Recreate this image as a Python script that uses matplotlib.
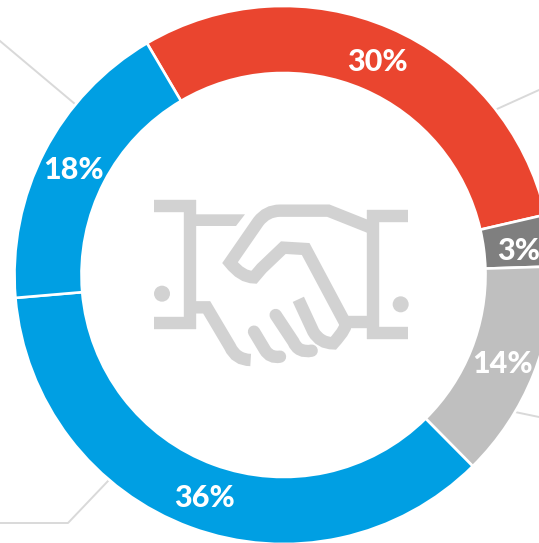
import matplotlib
matplotlib.use('Agg')
import matplotlib.pyplot as plt
from matplotlib.patches import Circle, PathPatch
from matplotlib.path import Path

shares = [29.9, 3.1, 13.1, 36.1, 17.9]
labels = ['30%', '3%', '14%', '36%', '18%']
colors = ['#ea452f', '#7f7f7f', '#bfbfbf', '#009fe3', '#009fe3']
label_pos = [(377, 62), (519, 251), (502, 364), (204, 498), (73, 170)]

# leader lines that run off the canvas, in pixels from the top left
leaders = [
    [(0, 41), (75, 104)],
    [(497, 109), (539, 90)],
    [(515, 412), (539, 417)],
    [(0, 523), (68, 523), (108, 481)],
]

W, H = 539, 543
fig = plt.figure(figsize=(W / 100, H / 100), dpi=100)
ax = fig.add_axes([0, 0, 1, 1])

for line in leaders:
    ax.plot([p[0] for p in line], [H - p[1] for p in line], color='#d9d9d9', lw=1.4, zorder=1)

ax.pie(shares, colors=colors, startangle=120.5, counterclock=False,
       center=(283.5, H - 275), radius=269,
       wedgeprops=dict(width=67, edgecolor='white', linewidth=1.9, zorder=2))

ax.set_xlim(0, W)
ax.set_ylim(0, H)
ax.set_aspect('equal')
ax.axis('off')

for txt, (x, y) in zip(labels, label_pos):
    ax.text(x, H - y, txt, color='white', fontsize=22, fontweight=900, family='Lato',
            ha='center', va='center', zorder=5)


# handshake icon
def pt(x, y):
    return (130 + x / 3, H - (180 + y / 3))


icon = '#d2d2d2'
M, L, Q = Path.MOVETO, Path.LINETO, Path.CURVE3
strokes = [
    ([(72, 78), (198, 78)], [M, L]),
    ([(180, 60), (180, 448)], [M, L]),
    ([(72, 430), (198, 430)], [M, L]),
    ([(710, 108), (835, 108)], [M, L]),
    ([(728, 90), (728, 478)], [M, L]),
    ([(710, 460), (835, 460)], [M, L]),
    ([(650, 427), (710, 427)], [M, L]),
    ([(198, 382), (230, 382), (300, 500), (318, 540), (362, 540)], [M, L, L, Q, Q]),
    ([(728, 145), (595, 92), (450, 92), (410, 92), (385, 125), (300, 248), (335, 292), (372, 292),
      (395, 265), (460, 203), (527, 207), (645, 428), (655, 440), (610, 490), (570, 490),
      (550, 455), (505, 358)],
     [M, L, L, Q, Q, L, Q, Q, L, L, L, L, Q, Q, Q, L, L]),
    ([(437, 405), (490, 485), (505, 520), (545, 512)], [M, L, Q, Q]),
    ([(372, 455), (405, 510), (420, 535), (450, 530)], [M, L, Q, Q]),
]
for verts, codes in strokes:
    round_end = verts[0] in [(437, 405), (372, 455)]
    ax.add_patch(PathPatch(Path([pt(*v) for v in verts], codes), fill=False, edgecolor=icon,
                           lw=8.9, capstyle='round' if round_end else 'butt', joinstyle='miter', zorder=3))

# upper arm of the left bracket has a slanted end
ax.fill([pt(*v)[0] for v in [(198, 103), (345, 103), (318, 138), (198, 138)]],
        [pt(*v)[1] for v in [(198, 103), (345, 103), (318, 138), (198, 138)]], color=icon, lw=0, zorder=3)
for c in [(96, 341), (812, 373)]:
    ax.add_patch(Circle(pt(*c), 8, color=icon, lw=0, zorder=3))

fig.savefig('out.png', dpi=100)
